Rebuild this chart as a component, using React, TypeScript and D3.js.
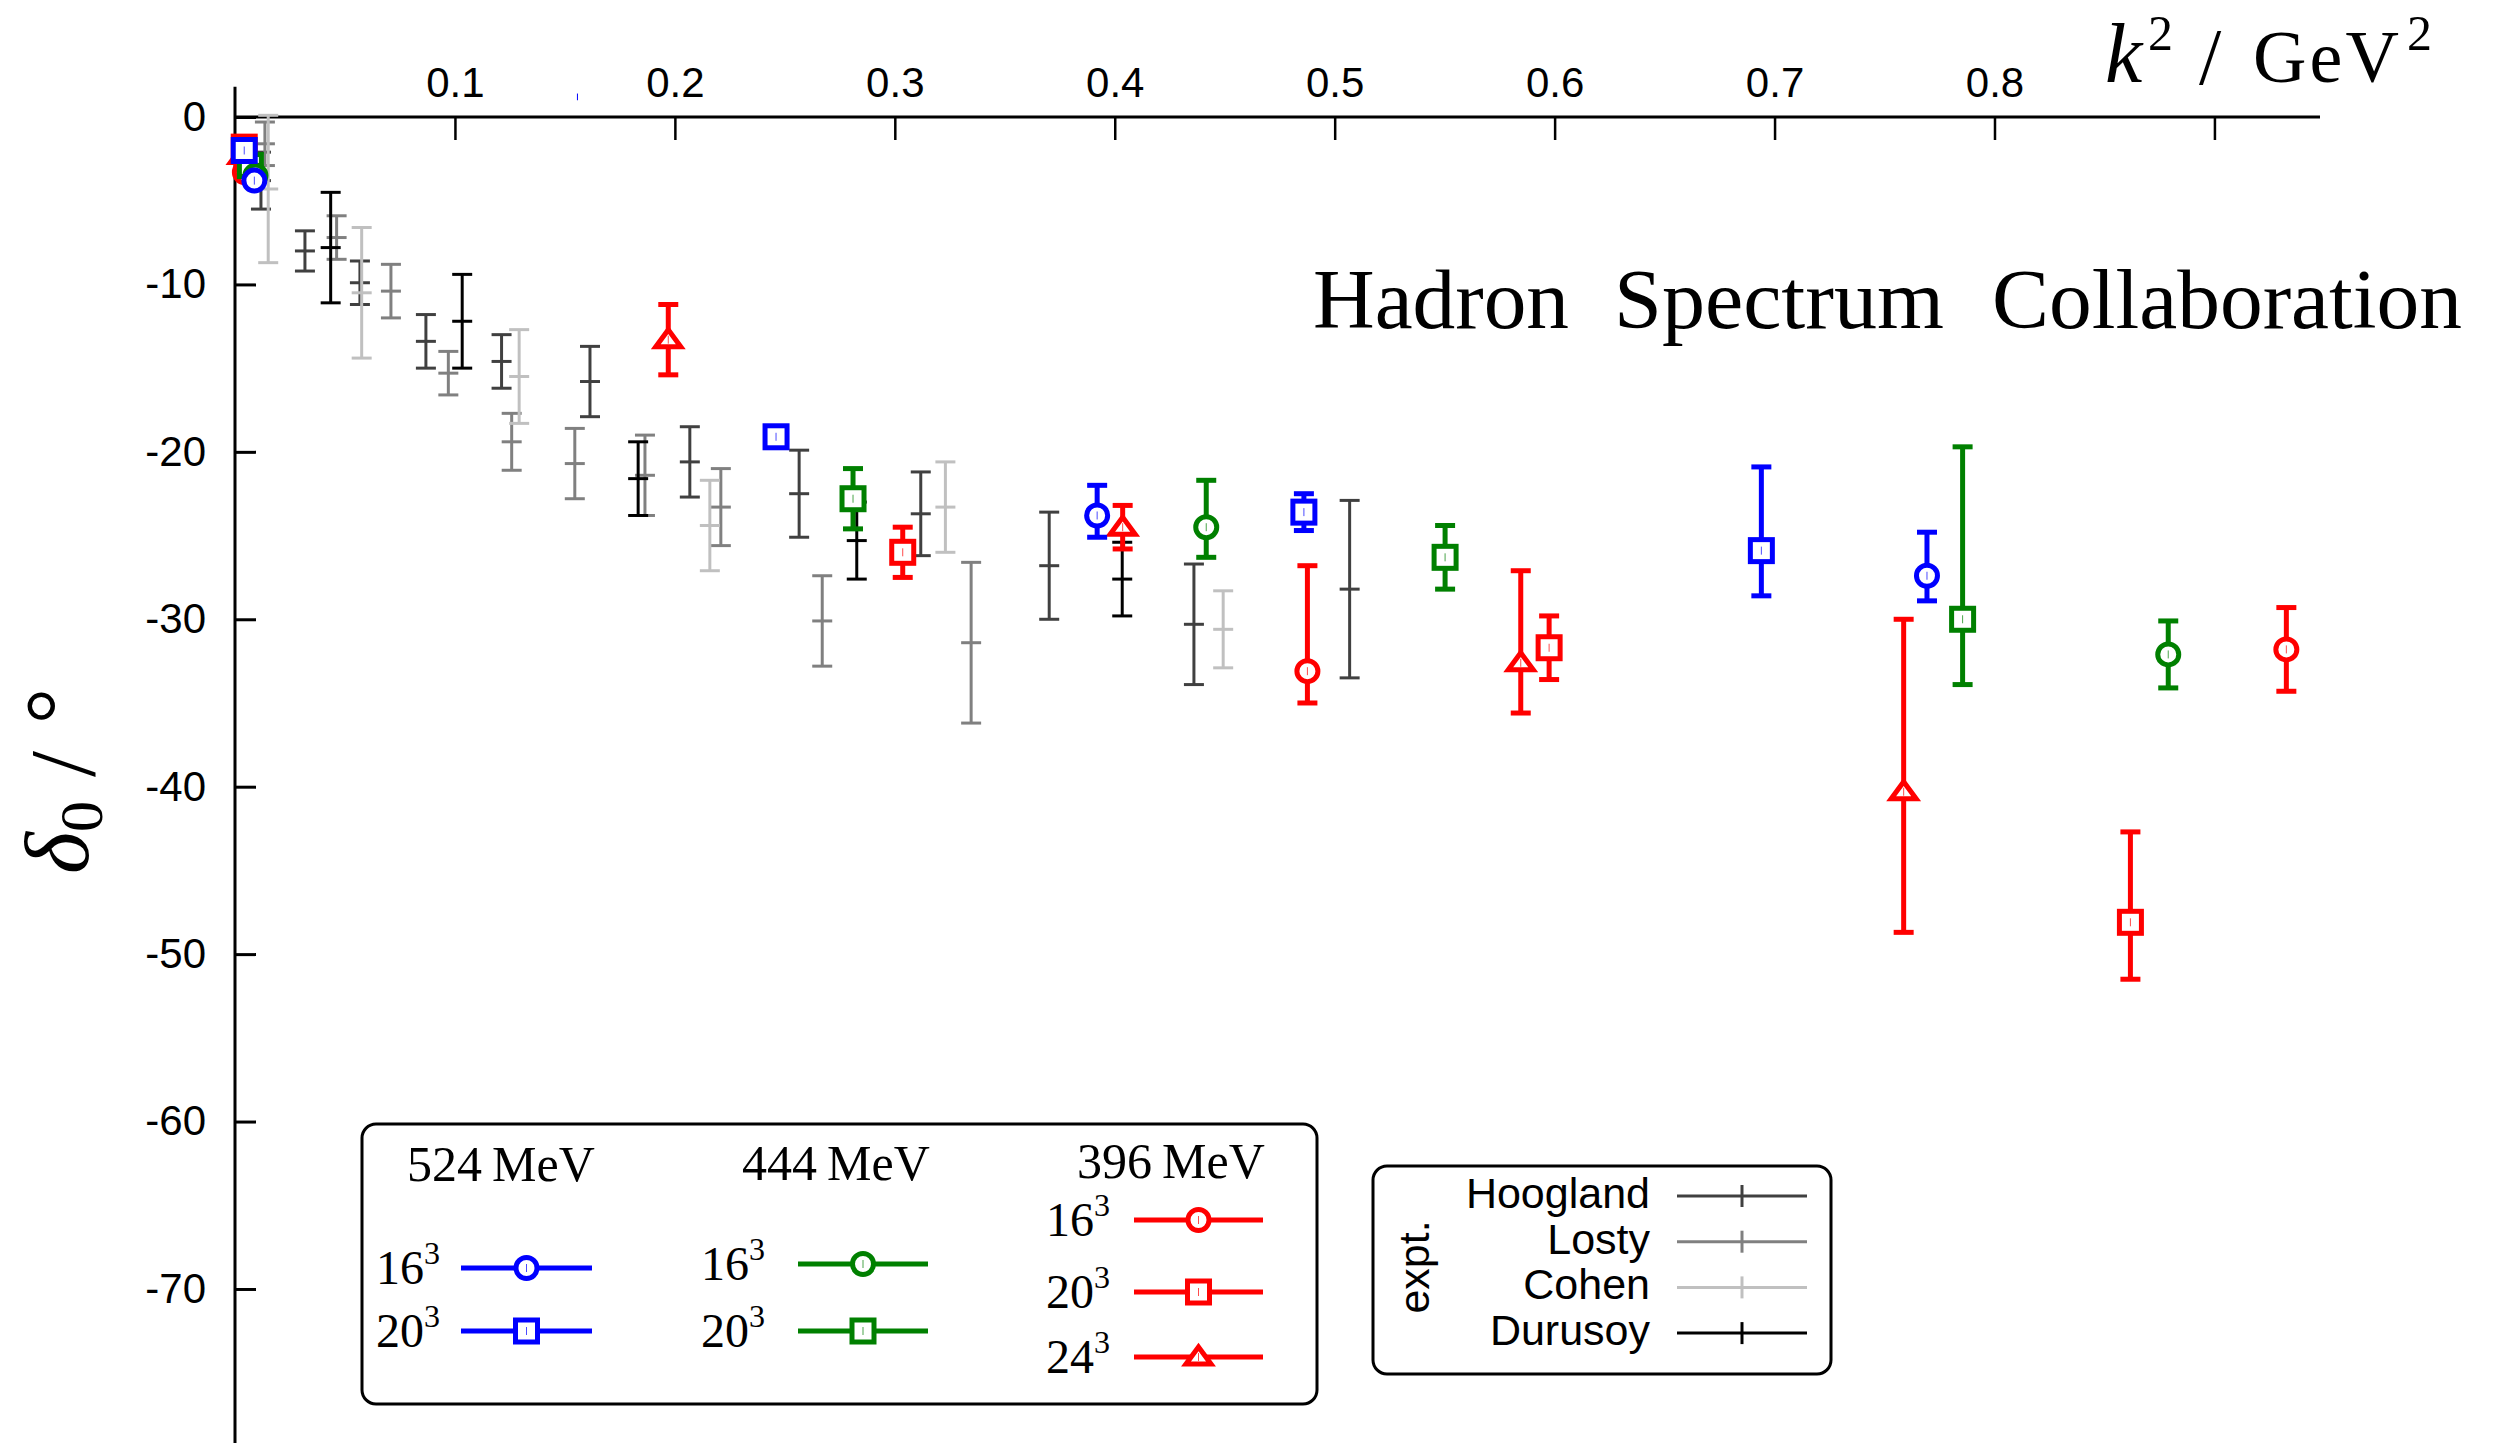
import React, { useEffect, useRef } from "react";
import * as d3 from "d3";

const W = 2498;
const H = 1443;

// axis ticks
const xTicks = [0.1, 0.2, 0.3, 0.4, 0.5, 0.6, 0.7, 0.8, 0.9];
const xTickLabels = ["0.1", "0.2", "0.3", "0.4", "0.5", "0.6", "0.7", "0.8", ""];
const yTicks = [0, -10, -20, -30, -40, -50, -60, -70];

// lattice results: [k^2, delta, upper, lower]
const m524L16 = [[0.0088, -3.8, -3.5, -4.1], [0.392, -23.8, -22.0, -25.1], [0.7693, -27.4, -24.8, -28.9]];
const m524L20 = [[0.0042, -2.0, -1.8, -2.2], [0.246, -19.1, -18.8, -19.4], [0.486, -23.6, -22.5, -24.7], [0.694, -25.9, -20.9, -28.6]];
const m444L16 = [[0.0093, -3.5, -3.2, -3.8], [0.4416, -24.5, -21.7, -26.3], [0.879, -32.1, -30.1, -34.1]];
const m444L20 = [[0.007, -2.9, -2.6, -3.2], [0.281, -22.8, -21.0, -24.6], [0.5502, -26.3, -24.4, -28.2], [0.7855, -30.0, -19.7, -33.9]];
const m396L16 = [[0.0045, -3.3, -3.0, -3.6], [0.4876, -33.1, -26.8, -35.0], [0.9327, -31.8, -29.3, -34.3]];
const m396L20 = [[0.0042, -1.8, -1.5, -2.1], [0.3036, -26.0, -24.5, -27.5], [0.5975, -31.7, -29.8, -33.6], [0.8618, -48.1, -42.7, -51.5]];
const m396L24 = [[0.0036, -2.3, -2.0, -2.6], [0.197, -13.3, -11.2, -15.4], [0.4036, -24.5, -23.2, -25.8], [0.5846, -32.6, -27.1, -35.6], [0.7587, -40.3, -30.0, -48.7]];

// experiment: [k^2, delta, error]
const hoogland = [[0.0118, -3.8, 1.7], [0.0318, -8.0, 1.2], [0.0568, -9.9, 1.3], [0.0868, -13.4, 1.6], [0.1212, -14.6, 1.6], [0.1614, -15.8, 2.1], [0.2068, -20.6, 2.1], [0.2565, -22.5, 2.6], [0.3118, -23.7, 2.5], [0.3702, -26.8, 3.2], [0.436, -30.3, 3.6], [0.5068, -28.2, 5.3]];
const losty = [[0.0136, -1.6, 1.3], [0.0462, -7.2, 1.3], [0.0709, -10.4, 1.6], [0.097, -15.3, 1.3], [0.1258, -19.4, 1.7], [0.1545, -20.7, 2.1], [0.1864, -21.4, 2.4], [0.2209, -23.3, 2.3], [0.267, -30.1, 2.7], [0.3347, -31.4, 4.8]];
const cohen = [[0.0151, -4.3, 4.4], [0.0576, -10.5, 3.9], [0.1292, -15.5, 2.8], [0.2159, -24.4, 2.7], [0.323, -23.3, 2.7], [0.4493, -30.6, 2.3]];
const durusoy = [[0.0435, -7.8, 3.3], [0.1033, -12.2, 2.8], [0.1833, -21.6, 2.2], [0.2827, -25.3, 2.3], [0.4034, -27.6, 2.2]];

const BLUE = "#0000ff";
const GREEN = "#008000";
const RED = "#ff0000";

const lattice = [
  { data: m524L16, color: BLUE, shape: "circle" },
  { data: m524L20, color: BLUE, shape: "square" },
  { data: m444L16, color: GREEN, shape: "circle" },
  { data: m444L20, color: GREEN, shape: "square" },
  { data: m396L16, color: RED, shape: "circle" },
  { data: m396L20, color: RED, shape: "square" },
  { data: m396L24, color: RED, shape: "triangle" },
];

const expt = [
  { name: "Hoogland", data: hoogland, color: "#404040" },
  { name: "Losty", data: losty, color: "#808080" },
  { name: "Cohen", data: cohen, color: "#c0c0c0" },
  { name: "Durusoy", data: durusoy, color: "#000000" },
];

const SERIF = "'Liberation Serif', 'Times New Roman', serif";
const SANS = "'Liberation Sans', Arial, sans-serif";

function marker(g: any, shape: string, cx: number, cy: number, color: string) {
  if (shape === "circle") {
    g.append("circle").attr("cx", cx).attr("cy", cy).attr("r", 10.5)
      .attr("fill", "#fff").attr("stroke", color).attr("stroke-width", 5);
  } else if (shape === "square") {
    g.append("rect").attr("x", cx - 11).attr("y", cy - 11).attr("width", 22).attr("height", 22)
      .attr("fill", "#fff").attr("stroke", color).attr("stroke-width", 5);
  } else {
    g.append("path").attr("d", `M${cx},${cy - 10}L${cx + 12.5},${cy + 7}L${cx - 12.5},${cy + 7}Z`)
      .attr("fill", "#fff").attr("stroke", color).attr("stroke-width", 5);
  }
  g.append("line").attr("x1", cx).attr("x2", cx).attr("y1", cy - 4).attr("y2", cy + 4)
    .attr("stroke", color).attr("stroke-width", 1).attr("opacity", 0.7);
}

function draw(svg: any) {
  const x = d3.scaleLinear().domain([0, 0.948]).range([235, 2320]);
  const y = d3.scaleLinear().domain([0, -79.2]).range([117, 1443]);

  // axes
  const gx = svg.append("g").attr("transform", `translate(0,${y(0)})`)
    .call(d3.axisTop(x).tickValues(xTicks).tickSizeInner(-23).tickSizeOuter(0).tickPadding(20)
      .tickFormat((d: any, i: number) => xTickLabels[i]));
  gx.select(".domain").remove();
  gx.selectAll(".tick line").attr("stroke", "#000").attr("stroke-width", 2.5);
  gx.selectAll(".tick text").attr("font-family", SANS).attr("font-size", 42).attr("fill", "#000");

  const gy = svg.append("g").attr("transform", `translate(${x(0)},0)`)
    .call(d3.axisLeft(y).tickValues(yTicks).tickSizeInner(-21).tickSizeOuter(0).tickPadding(29)
      .tickFormat((d: any) => String(d)));
  gy.select(".domain").remove();
  gy.selectAll(".tick line").attr("stroke", "#000").attr("stroke-width", 3);
  gy.selectAll(".tick text").attr("font-family", SANS).attr("font-size", 42).attr("fill", "#000");

  svg.append("line").attr("x1", x(0)).attr("x2", x(0.948)).attr("y1", y(0)).attr("y2", y(0))
    .attr("stroke", "#000").attr("stroke-width", 3);
  svg.append("line").attr("x1", x(0)).attr("x2", x(0)).attr("y1", y(1.8)).attr("y2", H)
    .attr("stroke", "#000").attr("stroke-width", 3);

  // stray blue tick from the original
  svg.append("line").attr("x1", x(0.1557)).attr("x2", x(0.1557)).attr("y1", y(1.4)).attr("y2", y(1.0))
    .attr("stroke", BLUE).attr("stroke-width", 1);

  // experimental points
  expt.forEach((s) => {
    const g = svg.append("g").attr("stroke", s.color).attr("stroke-width", 3);
    s.data.forEach((d) => {
      const cx = x(d[0]);
      const t = y(d[1] + d[2]);
      const b = y(d[1] - d[2]);
      g.append("line").attr("x1", cx).attr("x2", cx).attr("y1", t).attr("y2", b);
      [t, y(d[1]), b].forEach((yy) => {
        g.append("line").attr("x1", cx - 10).attr("x2", cx + 10).attr("y1", yy).attr("y2", yy);
      });
    });
  });

  // lattice points (heaviest pion mass drawn last, on top)
  lattice.slice().reverse().forEach((s) => {
    const g = svg.append("g");
    s.data.forEach((d) => {
      const cx = x(d[0]);
      const t = y(d[2]);
      const b = y(d[3]);
      g.append("line").attr("x1", cx).attr("x2", cx).attr("y1", t).attr("y2", b)
        .attr("stroke", s.color).attr("stroke-width", 5);
      [t, b].forEach((yy) => {
        g.append("line").attr("x1", cx - 10).attr("x2", cx + 10).attr("y1", yy).attr("y2", yy)
          .attr("stroke", s.color).attr("stroke-width", 5);
      });
      marker(g, s.shape, cx, y(d[1]), s.color);
    });
  });

  // axis titles
  const xl = svg.append("text").attr("font-family", SERIF).attr("fill", "#000");
  xl.append("tspan").attr("x", 2105).attr("y", 82).attr("font-size", 84).attr("font-style", "italic").text("k");
  xl.append("tspan").attr("x", 2148).attr("y", 50).attr("font-size", 50).text("2");
  xl.append("tspan").attr("x", 2199).attr("y", 84).attr("font-size", 80).text("/");
  xl.append("tspan").attr("x", 2253).attr("y", 82).attr("font-size", 74).attr("textLength", 146).text("GeV");
  xl.append("tspan").attr("x", 2407).attr("y", 50).attr("font-size", 50).text("2");

  const yl = svg.append("g").attr("transform", "translate(88,874) rotate(-90)")
    .attr("font-family", SERIF).attr("fill", "#000");
  yl.append("text").attr("x", 0).attr("y", 0).attr("font-size", 90).attr("font-style", "italic").text("δ");
  yl.append("text").attr("x", 42).attr("y", 14).attr("font-size", 62).text("0");
  yl.append("text").attr("x", 97).attr("y", 6).attr("font-size", 94).text("/");
  yl.append("text").attr("x", 150).attr("y", 0).attr("font-size", 90).text("°");

  // title
  [["Hadron", 1313, 256], ["Spectrum", 1614, 330], ["Collaboration", 1992, 470]].forEach((w: any) => {
    svg.append("text").attr("x", w[1]).attr("y", 328).attr("font-family", SERIF).attr("font-size", 84)
      .attr("textLength", w[2]).attr("lengthAdjust", "spacingAndGlyphs").text(w[0]);
  });

  // lattice legend
  svg.append("rect").attr("x", 362).attr("y", 1124).attr("width", 955).attr("height", 280).attr("rx", 14)
    .attr("fill", "#fff").attr("stroke", "#000").attr("stroke-width", 3);
  const cols = [
    { head: "524", hx: 407, hy: 1181, lx: 378, line: [461, 592], rows: [[0, 1268], [1, 1331]] },
    { head: "444", hx: 742, hy: 1180, lx: 703, line: [798, 928], rows: [[2, 1264], [3, 1331]] },
    { head: "396", hx: 1077, hy: 1178, lx: 1048, line: [1134, 1263], rows: [[4, 1220], [5, 1292], [6, 1357]] },
  ];
  const sizes = ["16", "20", "16", "20", "16", "20", "24"];
  cols.forEach((c) => {
    const ht = svg.append("text").attr("x", c.hx).attr("y", c.hy).attr("font-family", SERIF).attr("font-size", 50);
    ht.append("tspan").text(c.head);
    ht.append("tspan").attr("dx", 10).text("MeV");
    c.rows.forEach((r) => {
      const s = lattice[r[0]];
      const cy = r[1];
      const lt = svg.append("text").attr("x", c.lx - 2).attr("y", cy + 16).attr("font-family", SERIF).attr("font-size", 48);
      lt.append("tspan").text(sizes[r[0]]);
      lt.append("tspan").attr("dy", -20).attr("font-size", 32).text("3");
      svg.append("line").attr("x1", c.line[0]).attr("x2", c.line[1]).attr("y1", cy).attr("y2", cy)
        .attr("stroke", s.color).attr("stroke-width", 5);
      marker(svg.append("g"), s.shape, (c.line[0] + c.line[1]) / 2, cy, s.color);
    });
  });

  // experiment legend
  svg.append("rect").attr("x", 1373).attr("y", 1166).attr("width", 458).attr("height", 208).attr("rx", 14)
    .attr("fill", "#fff").attr("stroke", "#000").attr("stroke-width", 3);
  svg.append("text").attr("transform", "translate(1414,1267) rotate(-90)").attr("text-anchor", "middle")
    .attr("dy", "0.35em").attr("font-family", SANS).attr("font-size", 43).text("expt.");
  expt.forEach((s, i) => {
    const ly = 1196 + i * 45.7;
    svg.append("text").attr("x", 1650).attr("y", ly + 12).attr("text-anchor", "end")
      .attr("font-family", SANS).attr("font-size", 43).text(s.name);
    svg.append("line").attr("x1", 1677).attr("x2", 1807).attr("y1", ly).attr("y2", ly)
      .attr("stroke", s.color).attr("stroke-width", 3);
    svg.append("line").attr("x1", 1742).attr("x2", 1742).attr("y1", ly - 11).attr("y2", ly + 11)
      .attr("stroke", s.color).attr("stroke-width", 3);
  });
}

export default function App() {
  const ref = useRef<SVGSVGElement>(null);
  useEffect(() => {
    const svg = d3.select(ref.current);
    svg.selectAll("*").remove();
    draw(svg);
  }, []);
  return (
    <svg ref={ref} width={W} height={H}
      style={{ position: "absolute", left: 0, top: 0, background: "#fff", display: "block" }} />
  );
}
